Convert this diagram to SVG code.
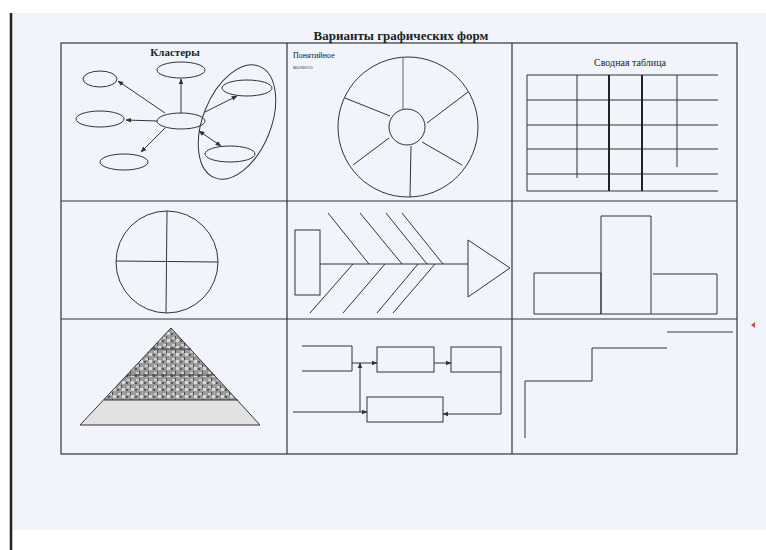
<svg xmlns="http://www.w3.org/2000/svg" width="766" height="550" viewBox="0 0 766 550">
<defs>
<marker id="ah" viewBox="0 0 10 10" refX="9" refY="5" markerWidth="6" markerHeight="6" orient="auto-start-reverse" markerUnits="userSpaceOnUse">
<path d="M0,1 L10,5 L0,9 z" fill="#333"/>
</marker>
<pattern id="tex" width="9" height="7" patternUnits="userSpaceOnUse">
<rect width="9" height="7" fill="#9a9a9a"/>
<rect x="1" y="1" width="3" height="2" fill="#cfcfcf"/>
<rect x="5" y="3" width="3" height="3" fill="#d8d8d8"/>
<rect x="0" y="4" width="2" height="2" fill="#5a5a5a"/>
<rect x="4" y="0" width="1" height="3" fill="#4a4a4a"/>
</pattern>
<clipPath id="pyr"><polygon points="171,328 80,425 260,425"/></clipPath>
</defs>
<style>
.ln{stroke:#333;stroke-width:1;fill:none}
.thin{stroke:#555;stroke-width:0.9;fill:none}
.frame{stroke:#333;stroke-width:1.2;fill:none}
.t{font-family:"Liberation Serif",serif;fill:#222}
</style>
<rect width="766" height="550" fill="#ffffff"/>
<rect x="12" y="13" width="754" height="517" fill="#f1f5fb"/>
<line x1="11" y1="13" x2="11" y2="550" stroke="#222" stroke-width="2.5"/>

<g id="frame">
<rect class="frame" x="61" y="43" width="676" height="411"/>
<line class="frame" x1="61" y1="201" x2="737" y2="201"/>
<line class="frame" x1="61" y1="319" x2="737" y2="319"/>
<line class="frame" x1="287" y1="43" x2="287" y2="454"/>
<line class="frame" x1="512" y1="43" x2="512" y2="454"/>
</g>
<text id="title" class="t" x="401" y="40" font-size="13" font-weight="bold" text-anchor="middle">Варианты графических форм</text>

<g id="clusters">
<text class="t" x="175" y="56" font-size="11" font-weight="bold" text-anchor="middle">Кластеры</text>
<ellipse class="ln" cx="100" cy="79" rx="17" ry="8"/>
<ellipse class="ln" cx="181" cy="70" rx="24" ry="8"/>
<ellipse class="ln" cx="100" cy="119" rx="24" ry="8"/>
<ellipse class="ln" cx="181" cy="121" rx="24" ry="8"/>
<ellipse class="ln" cx="124" cy="162" rx="24" ry="8"/>
<ellipse class="ln" cx="247" cy="88" rx="25" ry="8"/>
<ellipse class="ln" cx="230" cy="154" rx="25" ry="8"/>
<ellipse class="ln" cx="0" cy="0" rx="34" ry="60" transform="translate(237,122) rotate(22)"/>
</g>
<g id="cluster-connectors">
<line class="ln" x1="165" y1="113" x2="118" y2="81" marker-end="url(#ah)"/>
<line class="ln" x1="181" y1="113" x2="181" y2="79" marker-end="url(#ah)"/>
<line class="ln" x1="157" y1="121" x2="126" y2="120" marker-end="url(#ah)"/>
<line class="ln" x1="165" y1="128" x2="141" y2="152" marker-end="url(#ah)"/>
<line class="ln" x1="205" y1="112" x2="237" y2="96" marker-end="url(#ah)"/>
<line class="ln" x1="199" y1="131" x2="221" y2="146" marker-start="url(#ah)" marker-end="url(#ah)"/>
</g>

<g id="wheel">
<text class="t" x="293" y="58" font-size="8">Понятийное</text>
<text class="t" x="293" y="69" font-size="7" style="fill:#555">колесо</text>
<circle class="ln" cx="408" cy="127" r="70"/>
<circle class="ln" cx="407" cy="127" r="18"/>
<line class="thin" x1="403" y1="58" x2="403" y2="109"/>
<line class="ln" x1="427" y1="123" x2="468" y2="92"/>
<line class="ln" x1="345" y1="98" x2="390" y2="116"/>
<line class="ln" x1="353" y1="165" x2="389" y2="138"/>
<line class="ln" x1="422" y1="142" x2="462" y2="165"/>
<line class="ln" x1="411" y1="146" x2="410" y2="197"/>
</g>

<g id="table">
<text class="t" x="630" y="66" font-size="10" text-anchor="middle">Сводная таблица</text>
<line class="ln" x1="527" y1="75" x2="718" y2="75"/>
<line class="ln" x1="527" y1="100" x2="718" y2="100"/>
<line class="ln" x1="527" y1="125" x2="718" y2="125"/>
<line class="ln" x1="527" y1="149" x2="718" y2="149"/>
<line class="ln" x1="527" y1="174" x2="718" y2="174"/>
<line class="ln" x1="527" y1="191" x2="718" y2="191"/>
<line class="ln" x1="527" y1="75" x2="527" y2="191"/>
<line class="ln" x1="577" y1="75" x2="577" y2="178"/>
<line x1="609" y1="75" x2="609" y2="191" stroke="#222" stroke-width="2"/>
<line x1="642" y1="75" x2="642" y2="191" stroke="#222" stroke-width="2"/>
<line class="ln" x1="677" y1="75" x2="677" y2="167"/>
</g>

<g id="circle4">
<circle class="ln" cx="167" cy="262" r="51"/>
<line class="ln" x1="167" y1="211" x2="166" y2="313"/>
<line class="ln" x1="116" y1="261" x2="218" y2="262"/>
</g>

<g id="fishbone">
<rect class="ln" x="295" y="230" width="25" height="65"/>
<line class="ln" x1="320" y1="264" x2="468" y2="264"/>
<polygon class="ln" points="468,240 468,297 510,268"/>
<line class="ln" x1="328" y1="213" x2="369" y2="264"/>
<line class="ln" x1="360" y1="213" x2="402" y2="264"/>
<line class="ln" x1="386" y1="213" x2="427" y2="264"/>
<line class="ln" x1="402" y1="213" x2="443" y2="264"/>
<line class="ln" x1="353" y1="264" x2="310" y2="313"/>
<line class="ln" x1="385" y1="264" x2="343" y2="313"/>
<line class="ln" x1="418" y1="264" x2="377" y2="313"/>
<line class="ln" x1="435" y1="264" x2="393" y2="313"/>
</g>

<g id="bars">
<path class="ln" d="M534,314 V273 H601 V314 M601,314 V216 H651 V314 M653,274 H717 V314 M534,314 H717"/>
</g>

<g id="pyramid">
<g clip-path="url(#pyr)">
<rect x="75" y="325" width="190" height="75" fill="url(#tex)"/>
<rect x="75" y="400" width="190" height="26" fill="#e2e2e2"/>
</g>
<polygon class="ln" points="171,328 80,425 260,425"/>
<line class="ln" x1="151" y1="349" x2="191" y2="349"/>
<line class="ln" x1="127" y1="375" x2="215" y2="375"/>
<line class="ln" x1="104" y1="400" x2="238" y2="400"/>
</g>

<g id="flow-box1"><path class="ln" d="M302,346 H352 V371 H302"/></g>
<g id="flow-box2"><rect class="ln" x="377" y="347" width="57" height="25"/></g>
<g id="flow-box3"><rect class="ln" x="451" y="347" width="50" height="25"/></g>
<g id="flow-box4"><rect class="ln" x="367" y="397" width="76" height="25"/></g>
<g id="flow-connectors">
<line class="ln" x1="352" y1="363" x2="377" y2="363" marker-end="url(#ah)"/>
<line class="ln" x1="434" y1="363" x2="451" y2="363" marker-end="url(#ah)"/>
<line class="ln" x1="293" y1="412" x2="367" y2="412" marker-end="url(#ah)"/>
<line class="ln" x1="360" y1="412" x2="360" y2="363" marker-end="url(#ah)"/>
<path class="ln" d="M501,372 V414 H443" marker-end="url(#ah)"/>
</g>

<g id="steps">
<path class="ln" d="M525,438 V381 H592 V348 H667"/>
<line x1="667" y1="332" x2="733" y2="332" stroke="#999" stroke-width="2"/>
</g>
<path d="M755,322 L751,325 L755,328 z" fill="#c05050"/>
</svg>
